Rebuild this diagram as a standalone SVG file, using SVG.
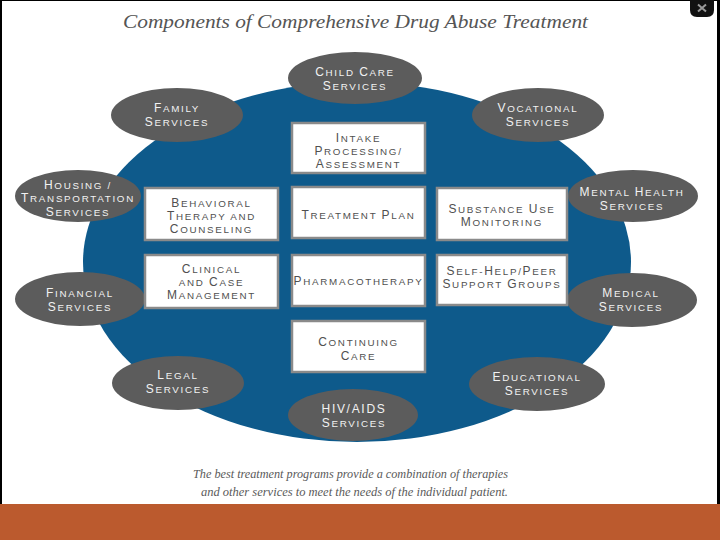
<svg xmlns="http://www.w3.org/2000/svg" width="720" height="540" viewBox="0 0 720 540">
<style>
.sv ellipse{fill:#5c5c5c}
.sv text{font-family:"Liberation Sans",Arial,sans-serif;font-size:9.8px;fill:#f2f2f2;text-anchor:middle;letter-spacing:1.7px}
.bx rect{fill:#ffffff;stroke:#8a8a8a;stroke-width:2.5}
.bx text{font-family:"Liberation Sans",Arial,sans-serif;font-size:9.8px;fill:#505050;text-anchor:middle;letter-spacing:1.7px}
.c{font-size:12px}
.title{font-family:"Liberation Serif","Times New Roman",serif;font-style:italic;font-size:19px;fill:#555}
.cap{font-family:"Liberation Serif","Times New Roman",serif;font-style:italic;font-size:13px;fill:#5a5a5a}
</style>
<rect x="0" y="0" width="720" height="540" fill="#000"/>
<rect x="2" y="1" width="715" height="504" fill="#ffffff"/>
<rect x="0" y="504" width="720" height="36" fill="#bb5a2e"/>
<path d="M690 0 H714 V10 Q714 17 707 17 H697 Q690 17 690 10 Z" fill="#111"/>
<path d="M698 4.5 L706 11.5 M706 4.5 L698 11.5" stroke="#9a9a9a" stroke-width="2"/>
<text class="title" x="123" y="28" textLength="465" lengthAdjust="spacingAndGlyphs">Components of Comprehensive Drug Abuse Treatment</text>

<g id="hub"><ellipse cx="357" cy="262" rx="274" ry="180" fill="#0e5a8b"/></g>

<g id="connectors"></g>

<g class="sv">
<g id="childcare"><ellipse cx="355" cy="78" rx="67" ry="26"/><text x="355" y="76"><tspan class="c">C</tspan>HILD <tspan class="c">C</tspan>ARE</text><text x="355" y="90"><tspan class="c">S</tspan>ERVICES</text></g>
<g id="family"><ellipse cx="177" cy="115" rx="66" ry="27"/><text x="177" y="112"><tspan class="c">F</tspan>AMILY</text><text x="177" y="126"><tspan class="c">S</tspan>ERVICES</text></g>
<g id="vocational"><ellipse cx="538" cy="115" rx="66" ry="27"/><text x="538" y="112"><tspan class="c">V</tspan>OCATIONAL</text><text x="538" y="126"><tspan class="c">S</tspan>ERVICES</text></g>
<g id="housing"><ellipse cx="78" cy="196" rx="63" ry="26"/><text x="78" y="188.5"><tspan class="c">H</tspan>OUSING /</text><text x="78" y="202"><tspan class="c">T</tspan>RANSPORTATION</text><text x="78" y="215.5"><tspan class="c">S</tspan>ERVICES</text></g>
<g id="mentalhealth"><ellipse cx="633" cy="196" rx="65" ry="26"/><text x="632" y="196"><tspan class="c">M</tspan>ENTAL <tspan class="c">H</tspan>EALTH</text><text x="632" y="210"><tspan class="c">S</tspan>ERVICES</text></g>
<g id="financial"><ellipse cx="80" cy="299" rx="65" ry="27"/><text x="80" y="297"><tspan class="c">F</tspan>INANCIAL</text><text x="80" y="311"><tspan class="c">S</tspan>ERVICES</text></g>
<g id="medical"><ellipse cx="632" cy="300" rx="65" ry="27"/><text x="631" y="297"><tspan class="c">M</tspan>EDICAL</text><text x="631" y="311"><tspan class="c">S</tspan>ERVICES</text></g>
<g id="legal"><ellipse cx="178" cy="383" rx="66" ry="27"/><text x="178" y="379"><tspan class="c">L</tspan>EGAL</text><text x="178" y="393"><tspan class="c">S</tspan>ERVICES</text></g>
<g id="educational"><ellipse cx="537" cy="384" rx="68" ry="27"/><text x="537" y="381"><tspan class="c">E</tspan>DUCATIONAL</text><text x="537" y="395"><tspan class="c">S</tspan>ERVICES</text></g>
<g id="hivaids"><ellipse cx="353" cy="415" rx="65" ry="26"/><text x="354" y="413"><tspan class="c">HIV/AIDS</tspan></text><text x="354" y="427"><tspan class="c">S</tspan>ERVICES</text></g>
</g>

<g class="bx">
<g id="intake"><rect x="292" y="123" width="133" height="50"/><text x="358.5" y="141.5"><tspan class="c">I</tspan>NTAKE</text><text x="358.5" y="154.5"><tspan class="c">P</tspan>ROCESSING/</text><text x="358.5" y="167.5"><tspan class="c">A</tspan>SSESSMENT</text></g>
<g id="treatmentplan"><rect x="292" y="187" width="133" height="51"/><text x="358.5" y="219"><tspan class="c">T</tspan>REATMENT <tspan class="c">P</tspan>LAN</text></g>
<g id="behavioral"><rect x="145" y="188" width="133" height="52"/><text x="211.5" y="207"><tspan class="c">B</tspan>EHAVIORAL</text><text x="211.5" y="220"><tspan class="c">T</tspan>HERAPY AND</text><text x="211.5" y="233"><tspan class="c">C</tspan>OUNSELING</text></g>
<g id="clinical"><rect x="145" y="255" width="133" height="53"/><text x="211.5" y="273"><tspan class="c">C</tspan>LINICAL</text><text x="211.5" y="286">AND <tspan class="c">C</tspan>ASE</text><text x="211.5" y="299"><tspan class="c">M</tspan>ANAGEMENT</text></g>
<g id="substance"><rect x="437" y="188" width="130" height="52"/><text x="502" y="213"><tspan class="c">S</tspan>UBSTANCE <tspan class="c">U</tspan>SE</text><text x="502" y="226"><tspan class="c">M</tspan>ONITORING</text></g>
<g id="selfhelp"><rect x="437" y="255" width="130" height="50"/><text x="502" y="274.5"><tspan class="c">S</tspan>ELF-<tspan class="c">H</tspan>ELP/<tspan class="c">P</tspan>EER</text><text x="502" y="287.5"><tspan class="c">S</tspan>UPPORT <tspan class="c">G</tspan>ROUPS</text></g>
<g id="pharmacotherapy"><rect x="292" y="255" width="133" height="51"/><text x="358.5" y="285"><tspan class="c">P</tspan>HARMACOTHERAPY</text></g>
<g id="continuing"><rect x="292" y="321" width="133" height="51"/><text x="358.5" y="346"><tspan class="c">C</tspan>ONTINUING</text><text x="358.5" y="360"><tspan class="c">C</tspan>ARE</text></g>
</g>

<text class="cap" x="193" y="478" textLength="315" lengthAdjust="spacingAndGlyphs">The best treatment programs provide a combination of therapies</text>
<text class="cap" x="201" y="496" textLength="307" lengthAdjust="spacingAndGlyphs">and other services to meet the needs of the individual patient.</text>
</svg>
